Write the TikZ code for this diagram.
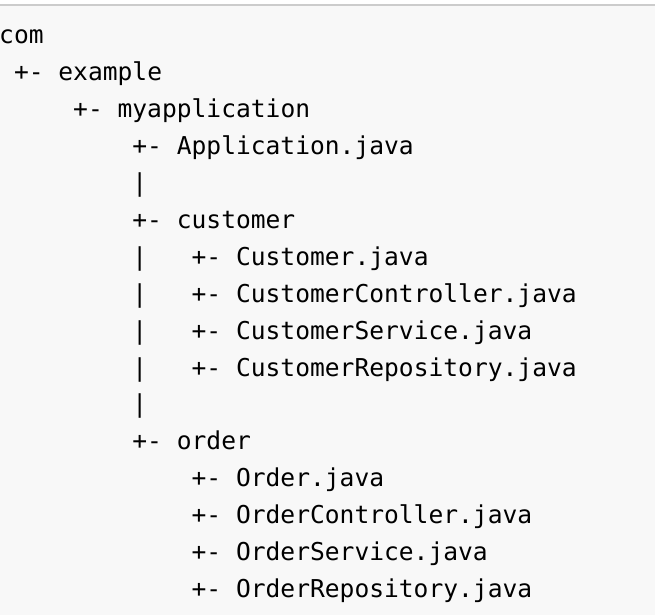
\documentclass[tikz,border=0pt]{standalone}
\usepackage{fontspec}
\setmonofont{DejaVu Sans Mono}
\definecolor{codebg}{HTML}{F8F8F8}
\definecolor{rulegray}{HTML}{CCCCCC}
\begin{document}
\begin{tikzpicture}[
    x=1pt,y=1pt,
    line/.style={anchor=base west,inner sep=0pt,text=black,
      font=\ttfamily\fontsize{24.6}{29}\selectfont}
  ]
  \useasboundingbox (0,0) rectangle (655,615);
  \fill[codebg] (0,0) rectangle (655,609);
  \fill[rulegray] (0,609) rectangle (655,611);
  % one node per line of the listing
  \foreach \col/\txt [count=\i from 0] in {
      0/com,
      1/+- example,
      5/+- myapplication,
      9/+- Application.java,
      9/|,
      9/+- customer,
      9/|\ \ \ +- Customer.java,
      9/|\ \ \ +- CustomerController.java,
      9/|\ \ \ +- CustomerService.java,
      9/|\ \ \ +- CustomerRepository.java,
      9/|,
      9/+- order,
      13/+- Order.java,
      13/+- OrderController.java,
      13/+- OrderService.java,
      13/+- OrderRepository.java} {
    \node[line] (l\i) at (\col*14.8-1,571-\i*36.9) {\txt};
  }
\end{tikzpicture}
\end{document}
